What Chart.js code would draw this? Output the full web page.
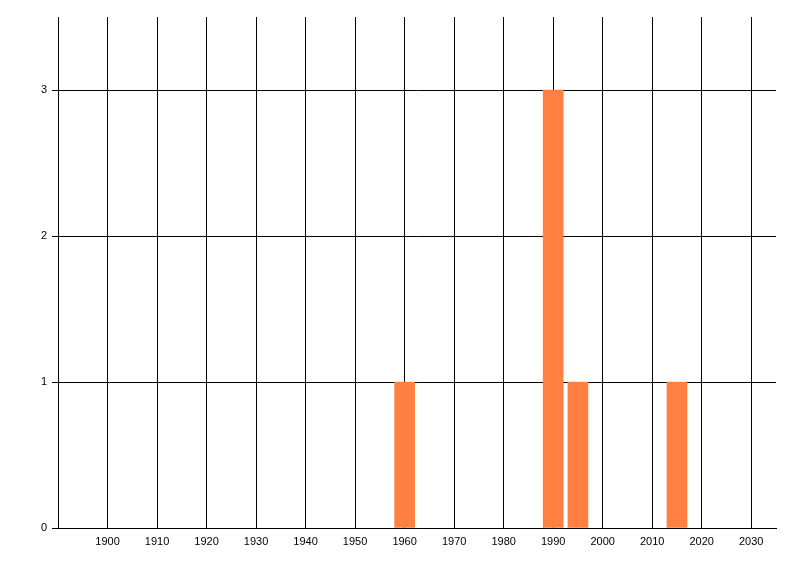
<!DOCTYPE html>
<html>
<head>
<meta charset="utf-8">
<script src="https://cdn.jsdelivr.net/npm/chart.js@4/dist/chart.umd.min.js"></script>
<style>
  html, body { margin: 0; padding: 0; background: #fff; }
  #wrap { width: 800px; height: 576px; }
</style>
</head>
<body>
<div id="wrap"><canvas id="chart" width="800" height="576"></canvas></div>
<script>
// chart data
const years = [1960, 1990, 1995, 2015];
const counts = [1, 3, 1, 1];
const xTicks = [1900, 1910, 1920, 1930, 1940, 1950, 1960, 1970, 1980, 1990, 2000, 2010, 2020, 2030];
const yTicks = [0, 1, 2, 3];

const points = years.map((y, i) => ({ x: y, y: counts[i] }));
const font = { family: 'Liberation Sans, DejaVu Sans, sans-serif', size: 11 };

new Chart(document.getElementById('chart'), {
    type: 'bar',
    data: {
        datasets: [{
            data: points,
            backgroundColor: '#FF8040',
            borderWidth: 0,
            barThickness: 20
        }]
    },
    options: {
        responsive: false,
        animation: false,
        maintainAspectRatio: false,
        layout: { padding: { top: 17, right: 24, left: 0, bottom: 0 } },
        plugins: { legend: { display: false }, tooltip: { enabled: false } },
        scales: {
            x: {
                type: 'linear',
                min: 1890,
                max: 2035,
                offset: false,
                afterBuildTicks: s => { s.ticks = xTicks.map(v => ({ value: v })); },
                afterFit: s => { s.height = 48; },
                grid: { color: '#000', lineWidth: 1, drawTicks: false, offset: false },
                border: { color: '#000', width: 1 },
                ticks: { color: '#000', font: font, padding: 7, maxRotation: 0, autoSkip: false,
                         callback: v => String(v) }
            },
            y: {
                min: 0,
                max: 3.5,
                afterBuildTicks: s => { s.ticks = yTicks.map(v => ({ value: v })); },
                afterFit: s => { s.width = 58; },
                grid: { color: '#000', lineWidth: 1, drawTicks: true, tickLength: 6 },
                border: { color: '#000', width: 1 },
                ticks: { color: '#000', font: font, padding: 5 }
            }
        }
    }
});
</script>
</body>
</html>
